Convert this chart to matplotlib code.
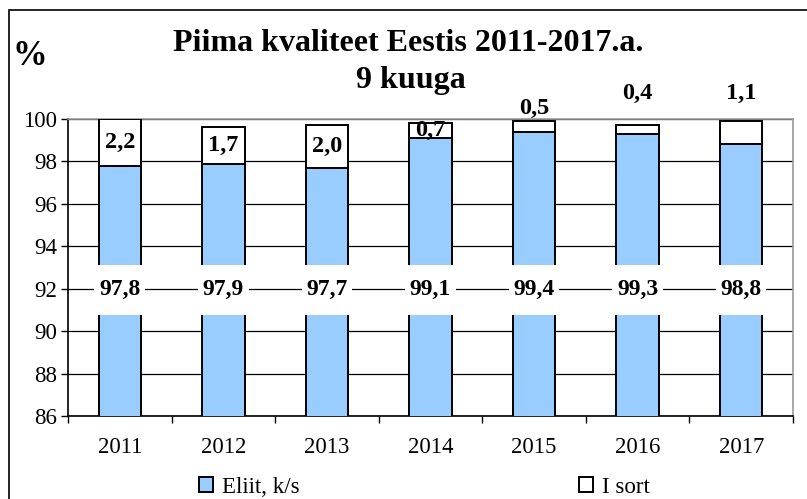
import matplotlib
matplotlib.use('Agg')
import matplotlib.pyplot as plt
from matplotlib.patches import Rectangle
import numpy as np

plt.rcParams['font.family'] = ['Liberation Serif', 'DejaVu Serif']

years = ['2011', '2012', '2013', '2014', '2015', '2016', '2017']
eliit = [97.8, 97.9, 97.7, 99.1, 99.4, 99.3, 98.8]
i_sort = [2.2, 1.7, 2.0, 0.7, 0.5, 0.4, 1.1]
eliit_lbl = ['97,8', '97,9', '97,7', '99,1', '99,4', '99,3', '98,8']
sort_lbl = ['2,2', '1,7', '2,0', '0,7', '0,5', '0,4', '1,1']

BLUE = '#99CCFF'

fig = plt.figure(figsize=(8.07, 4.99), dpi=100)
ax = fig.add_axes([68 / 807, 1 - 416 / 499, (793 - 68) / 807, (416 - 119) / 499])

x = np.arange(len(years))
w = 0.41
ax.bar(x, eliit, w, color=BLUE, edgecolor='black', linewidth=1.4, zorder=3, label='Eliit, k/s')
ax.bar(x, i_sort, w, bottom=eliit, color='white', edgecolor='black', linewidth=1.4,
       zorder=3, label='I sort')

ax.set_ylim(86, 100)
ax.set_xlim(-0.5, len(years) - 0.5)
ax.set_yticks(np.arange(86, 101, 2))
ax.tick_params(axis='y', labelsize=16.5, length=5, width=1, direction='out', pad=3)
ax.set_xticks(x)
ax.set_xticklabels(years)
ax.set_xticks(np.arange(-0.5, len(years), 1), minor=True)
ax.tick_params(axis='x', which='major', length=0, labelsize=16.5, pad=15)
ax.tick_params(axis='x', which='minor', length=5, width=1, direction='out')

ax.grid(axis='y', color='black', linewidth=0.9, zorder=0)
ax.set_axisbelow(True)
ax.spines['left'].set_color('black')
ax.spines['bottom'].set_color('black')
ax.spines['top'].set_color('#999999')
ax.spines['right'].set_color('#999999')
for s in ax.spines.values():
    s.set_linewidth(1.2)

# value labels of the elite segment
for xi, lbl in zip(x, eliit_lbl):
    ax.text(xi, 91.95, '\n' + lbl + '\n', ha='center', va='center', fontsize=17,
            fontweight='bold', linespacing=0.3, zorder=5,
            bbox=dict(boxstyle='square,pad=0.2', facecolor='white', edgecolor='none'))

# labels of the first grade segment (small ones pushed above the bars)
sort_y = [98.9, 98.75, 98.7, 99.45, 100.5, 101.2, 101.2]
for xi, yy, lbl in zip(x, sort_y, sort_lbl):
    ax.text(xi, yy, lbl, ha='center', va='center', fontsize=17.5, fontweight='bold',
            zorder=5, clip_on=False)

fig.text(0.506, 0.913, 'Piima kvaliteet Eestis 2011-2017.a.', ha='center', va='center',
         fontsize=23, fontweight='bold')
fig.text(0.509, 0.838, '9 kuuga', ha='center', va='center', fontsize=23, fontweight='bold')
fig.text(0.016, 0.887, '%', ha='left', va='center', fontsize=25, fontweight='bold')

fig.legend(loc='center', bbox_to_anchor=(0.526, 0.024), ncol=2, frameon=False, fontsize=16.5,
           columnspacing=12.2, handlelength=0.6, handleheight=0.6, handletextpad=0.4)

# outer chart frame
fig.patches.append(Rectangle((9 / 807, -0.1), 1.2, 1 - 10 / 499 + 0.1, transform=fig.transFigure,
                             fill=False, edgecolor='black', linewidth=1.2))

fig.savefig('out.png', dpi=100)
